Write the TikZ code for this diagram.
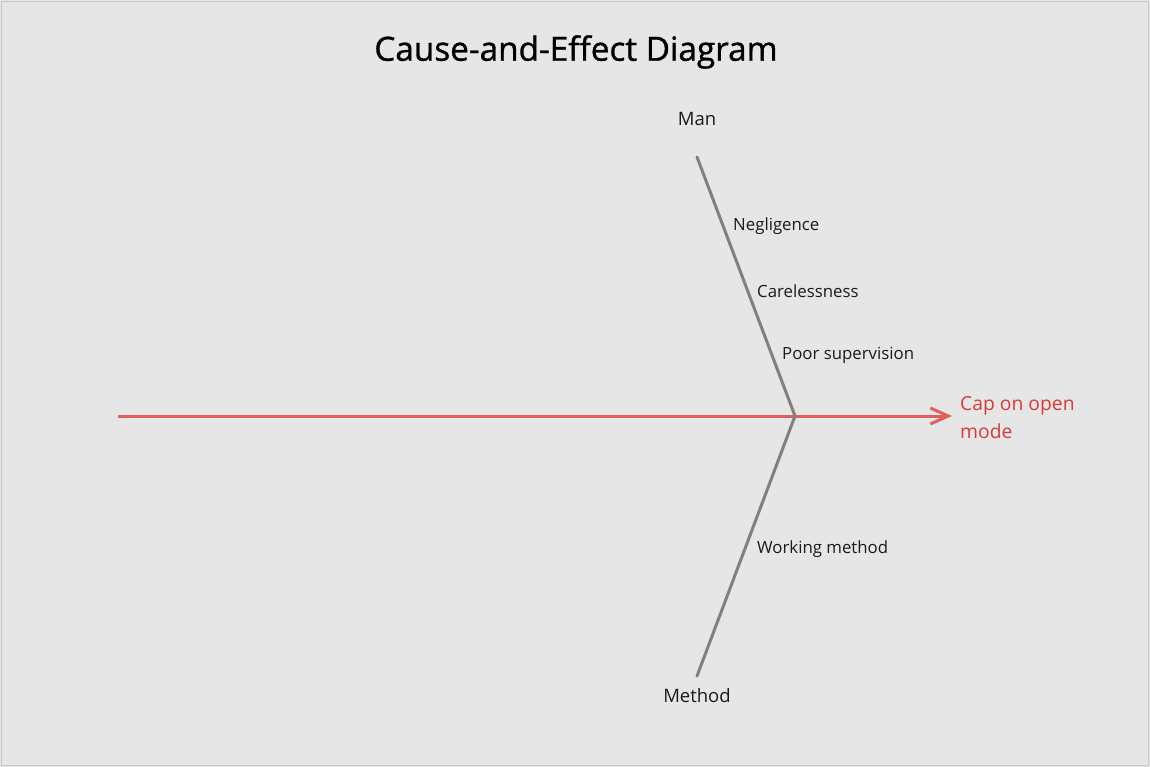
\documentclass[tikz,border=0pt]{standalone}
\usepackage{fontspec}
\setmainfont{Open Sans}
\usetikzlibrary{arrows.meta}
\definecolor{bg}{HTML}{E6E6E6}
\definecolor{frame}{HTML}{C8C8C8}
\definecolor{spine}{HTML}{E06060}
\definecolor{effect}{HTML}{D83A3A}
\definecolor{bone}{HTML}{808080}
\definecolor{txt}{HTML}{1A1A1A}
\tikzset{
  px/.style={x=1pt,y=-1pt},
  lbl/.style={inner sep=0pt,font=\fontsize{16.8}{20}\selectfont,text=txt},
  cause/.style={lbl,anchor=west},
  catlbl/.style={inner sep=0pt,font=\fontsize{18.5}{22}\selectfont,text=txt},
  bonestyle/.style={draw=bone,line width=3pt},
  spinestyle/.style={draw=spine,line width=3pt}
}
\begin{document}
\begin{tikzpicture}[px]
\useasboundingbox (0,0) rectangle (1150,767);
\fill[bg] (0,0) rectangle (1150,767);
\draw[frame,line width=1.5pt] (1.5,1.5) rectangle (1148.5,765.5);
\node[inner sep=0pt,font=\addfontfeature{FakeBold=1}\fontsize{33.3}{38}\selectfont,text=black] (title) at (576,52) {Cause-and-Effect Diagram};
\coordinate (tail) at (118,416);
\coordinate (joint) at (795,416);
\coordinate (head) at (952,416);
\coordinate (mantop) at (697,157);
\coordinate (methbot) at (697,676);
\draw[spinestyle,-{Straight Barb[length=18pt,width=16pt]}] (tail) -- (head);
\draw[bonestyle,line cap=round] (mantop) -- (joint) -- (methbot);
\node[catlbl] (man) at (697,119) {Man};
\node[catlbl] (method) at (697,696) {Method};
\node[cause] (neg) at (733,226) {Negligence};
\node[cause] (care) at (757,291) {Carelessness};
\node[cause] (poor) at (782,355) {Poor supervision};
\node[cause] (work) at (757,549) {Working method};
\node[inner sep=0pt,anchor=north west,align=left,text=effect,font=\fontsize{19.3}{28}\selectfont] (eff) at (960,396) {Cap on open\\mode};
\end{tikzpicture}
\end{document}
